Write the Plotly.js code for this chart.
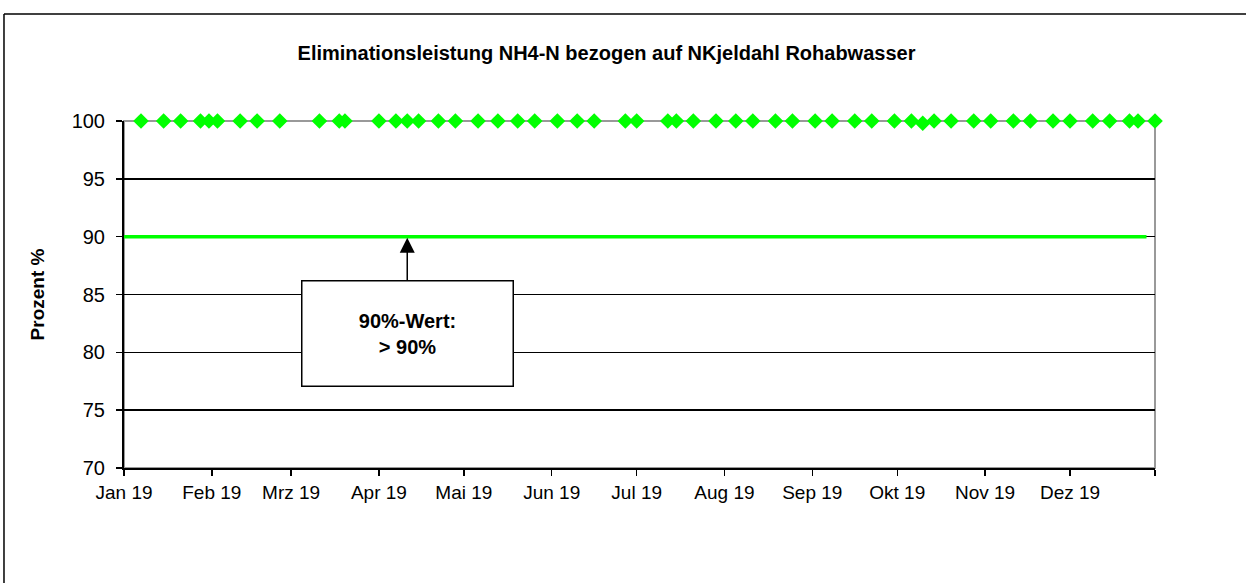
<!DOCTYPE html>
<html>
<head>
<meta charset="utf-8">
<script src="https://cdn.plot.ly/plotly-3.0.1.min.js"></script>
<style>html,body{margin:0;padding:0;background:#fff;}#chart{width:1246px;height:583px;}</style>
</head>
<body>
<div id="chart"></div>
<script>
// Messdaten: Eliminationsleistung (%)
const sampleDates = [
  '2019-01-07','2019-01-15','2019-01-21','2019-01-28','2019-01-31','2019-02-03','2019-02-11','2019-02-17','2019-02-25',
  '2019-03-11','2019-03-18','2019-03-20','2019-04-01','2019-04-07','2019-04-11','2019-04-15','2019-04-22','2019-04-28',
  '2019-05-06','2019-05-13','2019-05-20','2019-05-26','2019-06-03','2019-06-10','2019-06-16','2019-06-27',
  '2019-07-01','2019-07-12','2019-07-15','2019-07-21','2019-07-29','2019-08-05','2019-08-11','2019-08-19','2019-08-25',
  '2019-09-02','2019-09-08','2019-09-16','2019-09-22','2019-09-30','2019-10-06','2019-10-10','2019-10-14','2019-10-20',
  '2019-10-28','2019-11-03','2019-11-11','2019-11-17','2019-11-25','2019-12-01','2019-12-09','2019-12-15','2019-12-22',
  '2019-12-25','2019-12-31'
];
const sampleValues = [
  100,100,100,100,100,100,100,100,100,
  100,100,100,100,100,100,100,100,100,
  100,100,100,100,100,100,100,100,
  100,100,100,100,100,100,100,100,100,
  100,100,100,100,100,100,99.8,100,100,
  100,100,100,100,100,100,100,100,100,
  100,100
];
// 90%-Linie
const limitDates = ['2019-01-01','2019-12-28'];
const limitValues = [90, 90];
// Achsenbeschriftung
const tickDates = ['2019-01-01','2019-02-01','2019-03-01','2019-04-01','2019-05-01','2019-06-01','2019-07-01',
                   '2019-08-01','2019-09-01','2019-10-01','2019-11-01','2019-12-01','2019-12-31'];
const tickLabels = ['Jan 19','Feb 19','Mrz 19','Apr 19','Mai 19','Jun 19','Jul 19','Aug 19','Sep 19','Okt 19','Nov 19','Dez 19',''];
const yTicks = [70, 75, 80, 85, 90, 95, 100];

const FONT = 'Liberation Sans, Arial, sans-serif';

const traces = [
  {
    x: limitDates, y: limitValues, type: 'scatter', mode: 'lines',
    line: {color: '#00ff00', width: 3.5}, hoverinfo: 'skip', cliponaxis: false
  },
  {
    x: sampleDates, y: sampleValues, type: 'scatter', mode: 'markers',
    marker: {symbol: 'diamond', size: 12, color: '#00ff00', line: {width: 0}},
    cliponaxis: false
  }
];

const layout = {
  width: 1246, height: 583,
  margin: {l: 124, r: 91, t: 121, b: 115},
  paper_bgcolor: '#ffffff', plot_bgcolor: '#ffffff',
  showlegend: false,
  font: {family: FONT, color: '#000'},
  title: {
    text: '<b>Eliminationsleistung NH4-N bezogen auf NKjeldahl Rohabwasser</b>',
    font: {family: FONT, size: 20, color: '#000'},
    x: 0.468, xref: 'paper', xanchor: 'center', y: 0.909, yanchor: 'middle'
  },
  xaxis: {
    type: 'date', range: ['2019-01-01', '2019-12-31'],
    tickvals: tickDates, ticktext: tickLabels,
    showgrid: false, zeroline: false,
    showline: true, linecolor: '#000', linewidth: 2,
    ticks: 'outside', ticklen: 6, tickwidth: 1.5, tickcolor: '#000',
    tickfont: {family: FONT, size: 19, color: '#000'},
    fixedrange: true
  },
  yaxis: {
    range: [70, 100], tickvals: yTicks,
    showgrid: true, gridcolor: '#000', gridwidth: 1.5, zeroline: false,
    showline: true, linecolor: '#000', linewidth: 2,
    ticks: 'outside', ticklen: 6, tickwidth: 1.5, tickcolor: '#000',
    ticklabelstandoff: 7,
    tickfont: {family: FONT, size: 20, color: '#000'},
    title: {text: '<b>Prozent %</b>', font: {family: FONT, size: 19, color: '#000'}, standoff: 22},
    fixedrange: true
  },
  shapes: [
    {type: 'rect', xref: 'paper', yref: 'paper', x0: 0, x1: 1, y0: 0, y1: 1,
     line: {color: '#999999', width: 2}, fillcolor: 'rgba(0,0,0,0)', layer: 'between'},
    {type: 'line', xref: 'paper', yref: 'paper', x0: -0.1164, x1: -0.1164, y0: -0.5, y1: 1.308,
     line: {color: '#000', width: 1.5}, layer: 'below'},
    {type: 'line', xref: 'paper', yref: 'paper', x0: -0.1164, x1: 1.3, y0: 1.308, y1: 1.308,
     line: {color: '#000', width: 1.5}, layer: 'below'}
  ],
  annotations: [
    {
      x: '2019-04-11', y: 90, xref: 'x', yref: 'y',
      text: '<b>90%-Wert:<br>&gt; 90%</b>',
      font: {family: FONT, size: 20, color: '#000'},
      showarrow: true, arrowhead: 2, arrowsize: 2, arrowwidth: 1.5, arrowcolor: '#000',
      ax: 0, ay: 97, standoff: 1,
      width: 210, height: 104, align: 'center', valign: 'middle',
      bgcolor: '#ffffff', bordercolor: '#000', borderwidth: 1.5, borderpad: 0
    }
  ]
};

Plotly.newPlot('chart', traces, layout, {displayModeBar: false, staticPlot: true});
</script>
</body>
</html>
